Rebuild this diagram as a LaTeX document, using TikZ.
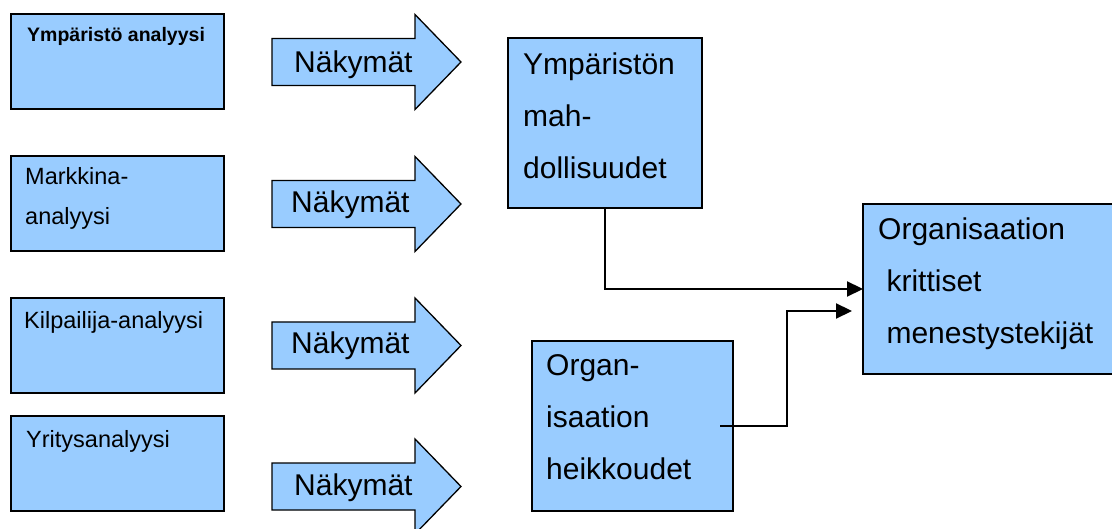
\documentclass[tikz,border=0pt]{standalone}
\usepackage{fontspec}
\setmainfont{Liberation Sans}
\usetikzlibrary{arrows.meta,calc}
\definecolor{boxblue}{HTML}{99CCFF}
\begin{document}
\begin{tikzpicture}[x=1pt,y=-1pt,
  box/.style={rectangle, draw=black, line width=1.3pt, fill=boxblue,
    anchor=north west, inner sep=0pt, outer sep=0pt},
  bigarrow/.style={draw=black, line width=1.3pt, fill=boxblue, line join=miter},
  conn/.style={draw=black, line width=2.2pt, -{Triangle[length=16pt,width=15pt]}},
  boldtxt/.style={anchor=base west, inner sep=0pt,
    font=\fontsize{19.5}{24}\selectfont\bfseries},
  smalltxt/.style={anchor=base west, inner sep=0pt, text width=200pt, align=left,
    font=\fontsize{23.5}{40}\selectfont},
  bigtxt/.style={anchor=base west, inner sep=0pt, text width=240pt, align=left,
    font=\fontsize{30}{52}\selectfont},
  arrtxt/.style={anchor=base west, inner sep=0pt, font=\fontsize{30}{36}\selectfont}
]
\useasboundingbox (0,0) rectangle (1112,529);
\clip (0,0) rectangle (1112,529);

% analysis boxes on the left
\node[box, minimum width=213pt, minimum height=95pt] (env) at (11,14) {};
\node[box, minimum width=213pt, minimum height=95pt] (mkt) at (11,156) {};
\node[box, minimum width=213pt, minimum height=95pt] (kil) at (11,298) {};
\node[box, minimum width=213pt, minimum height=95pt] (yri) at (11,416) {};

\node[boldtxt] (env-t) at ([shift={(16,28)}]env.north west) {Ympäristö analyysi};
\node[smalltxt] (mkt-t) at ([shift={(14,29)}]mkt.north west) {Markkina-\\analyysi};
\node[smalltxt] (kil-t) at ([shift={(13,31)}]kil.north west) {Kilpailija-analyysi};
\node[smalltxt] (yri-t) at ([shift={(15,31)}]yri.north west) {Yritysanalyysi};

% block arrows
\foreach \c/\n/\tx/\ty in {62/a1/294/73, 204/a2/291/213, 345.5/a3/291/354, 486.5/a4/294/495}{
  \draw[bigarrow] (272,{\c-23.5}) -- (415,{\c-23.5}) -- (415,{\c-47.5})
    -- (461,\c) -- (415,{\c+47.5}) -- (415,{\c+23.5}) -- (272,{\c+23.5}) -- cycle;
  \node[arrtxt] (\n) at (\tx,\ty) {Näkymät};
}

% result boxes
\node[box, minimum width=194pt, minimum height=170pt] (opp) at (508,38) {};
\node[box, minimum width=201pt, minimum height=170pt] (weak) at (532,341) {};
\node[box, minimum width=260pt, minimum height=170pt] (csf) at (863,204) {};

\node[bigtxt] (opp-t) at ([shift={(15,37)}]opp.north west) {Ympäristön\\mah-\\dollisuudet};
\node[bigtxt] (weak-t) at ([shift={(14,35)}]weak.north west) {Organ-\\isaation\\heikkoudet};
\node[bigtxt] (csf-t) at ([shift={(15,36)}]csf.north west)
  {Organisaation\\\hspace*{.278em}krittiset\\\hspace*{.278em}menestystekijät};

% connectors
\coordinate (tipB) at (852,311);
\draw[conn] (opp.south) |- (csf.west);
\draw[conn] ([xshift=-13pt]weak.east) -- ++(67,0) |- (tipB);
\end{tikzpicture}
\end{document}
